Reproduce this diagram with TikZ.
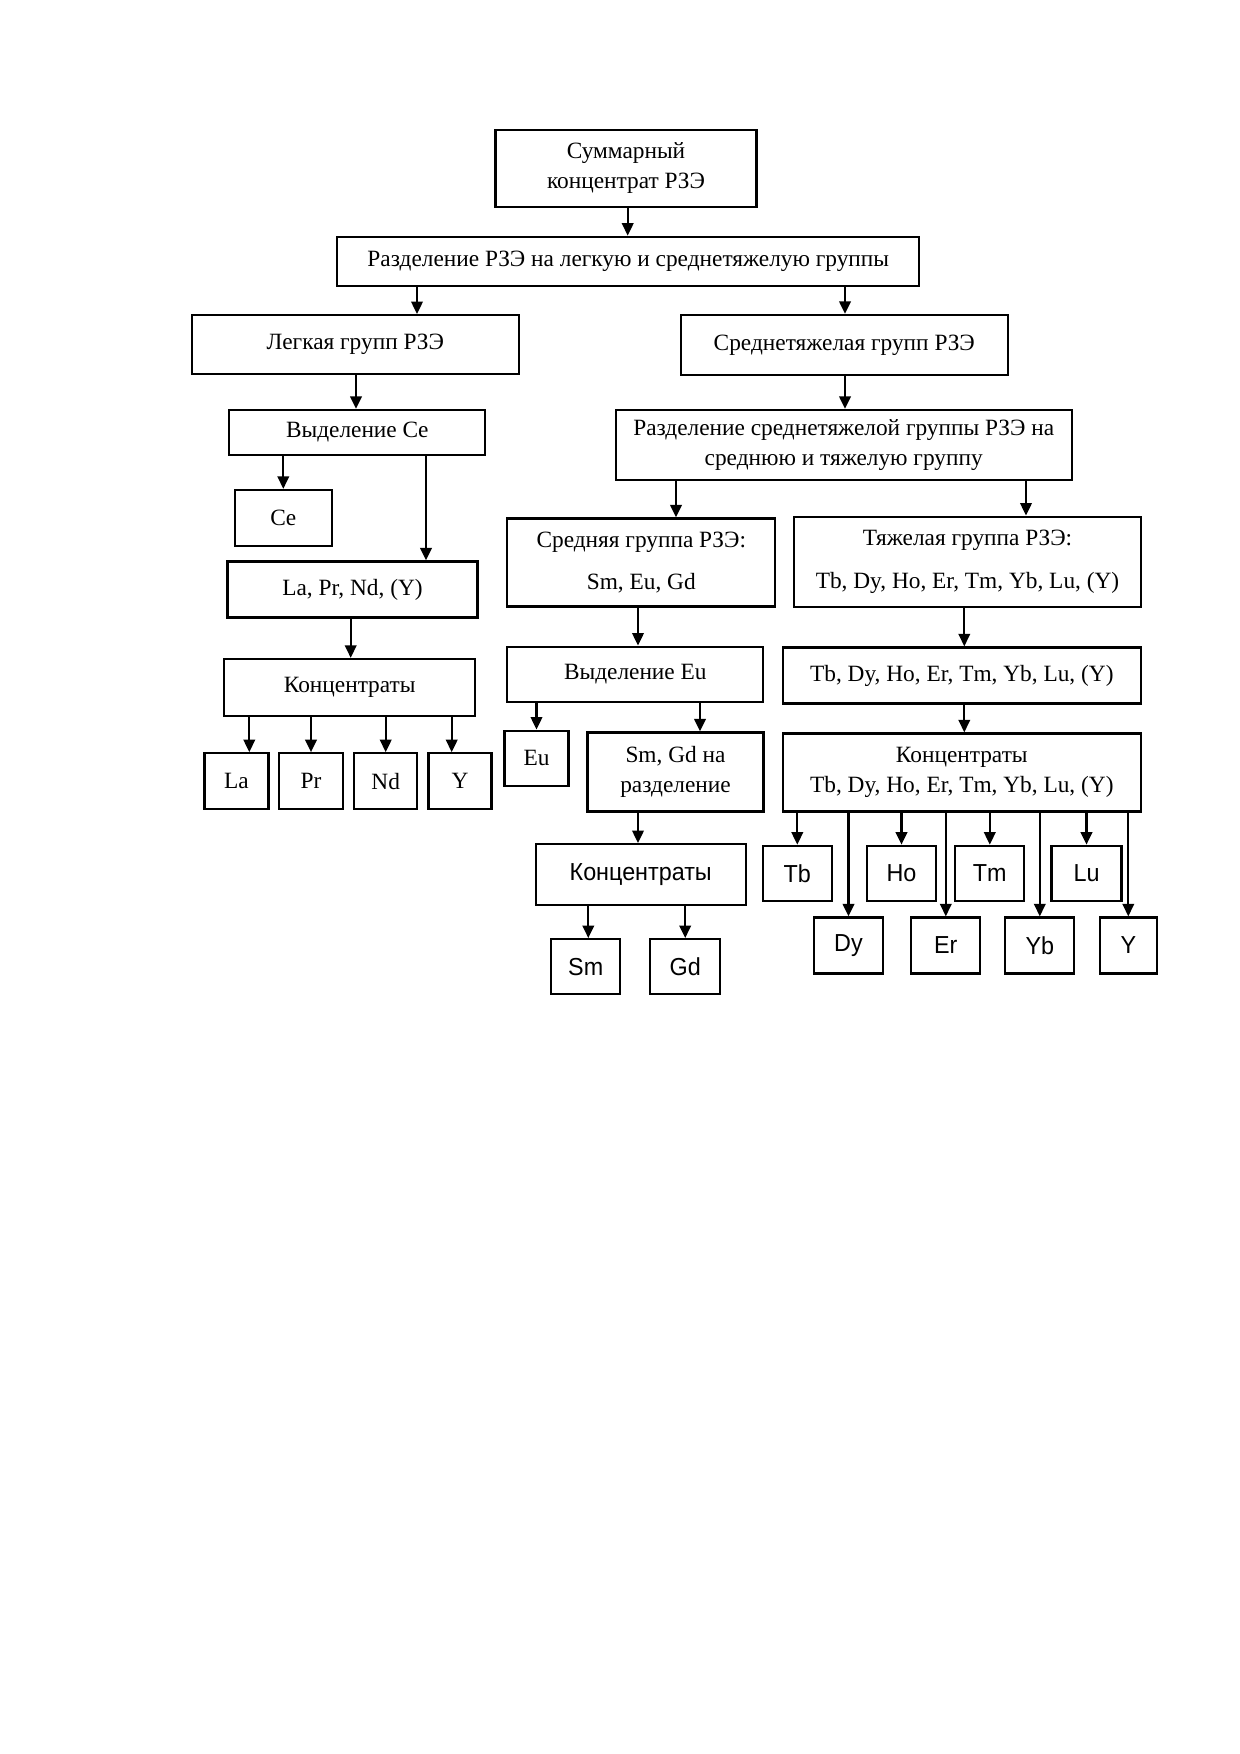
\documentclass[tikz,border=0pt]{standalone}
\usepackage{fontspec}
\setmainfont{Liberation Serif}
\newfontfamily\sansf[FakeStretch=0.95]{Liberation Sans}
\usetikzlibrary{arrows.meta}

\begin{document}
\begin{tikzpicture}[x=0.48pt, y=-0.48pt,
  box/.style={draw, rectangle, line width=1.1pt, inner sep=0pt, align=center, font=\fontsize{11.2}{14.4}\selectfont},
  sbox/.style={box, font=\sansf\fontsize{11.8}{14}\selectfont},
  sz/.style 2 args={minimum width=#1*0.48pt, minimum height=#2*0.48pt},
  arr/.style={-{Triangle[length=6pt,width=5.5pt]}, line width=1.1pt}]
\useasboundingbox (0,0) rectangle (1240,1754);

% Nodes
\node[box, sz={261}{77}] (sum) at (626,168.3) {Суммарный\\концентрат РЗЭ};
\node[box, sz={582}{49}] (sep1) at (628.3,261.3) {Разделение РЗЭ на легкую и среднетяжелую группы};
\node[box, sz={327}{59}] (light) at (355.3,344.7) {Легкая групп РЗЭ};
\node[box, sz={327}{60}] (mheavy) at (844.3,345) {Среднетяжелая групп РЗЭ};

% light group
\node[box, sz={256}{45}] (cesep) at (357.3,432.5) {Выделение Ce};
\node[box, sz={97}{56}] (ce) at (283.3,518) {Ce};
\node[box, sz={250}{56}] (lapr) at (352.5,589.5) {La, Pr, Nd, (Y)};
\node[box, sz={251}{57}] (lconc) at (349.7,687.5) {Концентраты};
\node[box, sz={64}{56}] (la) at (236.5,781.3) {La};
\node[box, sz={64}{56}] (pr) at (311,781.3) {Pr};
\node[box, sz={63}{56}] (nd) at (385.7,781.3) {Nd};
\node[box, sz={63}{56}] (ly) at (460,781.3) {Y};

% medium-heavy group
\node[box, sz={456}{70}] (sep2) at (843.7,445) {Разделение среднетяжелой группы РЗЭ на\\среднюю и тяжелую группу};
\node[box, sz={268}{88}] (mid) at (641.3,562.5) {Средняя группа РЗЭ:\\[5.6pt]Sm, Eu, Gd};
\node[box, sz={347}{90}] (heavy) at (967.5,561.7) {Тяжелая группа РЗЭ:\\[6pt]Tb, Dy, Ho, Er, Tm, Yb, Lu, (Y)};
\node[box, sz={256}{55}] (eusep) at (635.3,674.2) {Выделение Eu};
\node[box, sz={358}{56}] (hlist) at (961.8,675.5) {Tb, Dy, Ho, Er, Tm, Yb, Lu, (Y)};
\node[box, sz={64}{55}] (eu) at (536.5,758.2) {Eu};
\node[box, sz={176}{79}] (smgd) at (675.5,772) {Sm, Gd на\\разделение};
\node[box, sz={358}{78}] (hconc) at (961.8,772.5) {Концентраты\\Tb, Dy, Ho, Er, Tm, Yb, Lu, (Y)};
\node[sbox, sz={210}{61}] (mconc) at (640.7,874.7) {Концентраты};
\node[sbox, sz={69}{55}] (sm) at (585.7,966.7) {Sm};
\node[sbox, sz={70}{55}] (gd) at (685.2,966.7) {Gd};

% heavy concentrates
\node[sbox, sz={69}{55}] (tb) at (797.3,873.3) {Tb};
\node[sbox, sz={69}{55}] (ho) at (901.5,873.3) {Ho};
\node[sbox, sz={69}{55}] (tm) at (989.8,873.3) {Tm};
\node[sbox, sz={70}{55}] (lu) at (1086.5,873.3) {Lu};
\node[sbox, sz={69}{56}] (dy) at (848.5,945.5) {Dy};
\node[sbox, sz={69}{56}] (er) at (945.8,945.5) {Er};
\node[sbox, sz={69}{56}] (yb) at (1039.8,945.5) {Yb};
\node[sbox, sz={57}{56}] (hy) at (1128.3,945.5) {Y};

% Arrows
\draw[arr] (627.7,0 |- sum.south) -- (627.7,0 |- sep1.north);
\draw[arr] (417,0 |- sep1.south) -- (417,0 |- light.north);
\draw[arr] (845,0 |- sep1.south) -- (845,0 |- mheavy.north);
\draw[arr] (356,0 |- light.south) -- (356,0 |- cesep.north);
\draw[arr] (cesep.south -| ce) -- (ce);
\draw[arr] (426,0 |- cesep.south) -- (426,0 |- lapr.north);
\draw[arr] (350.7,0 |- lapr.south) -- (350.7,0 |- lconc.north);
\draw[arr] (249.3,0 |- lconc.south) -- (249.3,0 |- la.north);
\draw[arr] (lconc.south -| pr) -- (pr);
\draw[arr] (lconc.south -| nd) -- (nd);
\draw[arr] (451.7,0 |- lconc.south) -- (451.7,0 |- ly.north);
\draw[arr] (845,0 |- mheavy.south) -- (845,0 |- sep2.north);
\draw[arr] (676,0 |- sep2.south) -- (676,0 |- mid.north);
\draw[arr] (1026,0 |- sep2.south) -- (1026,0 |- heavy.north);
\draw[arr] (638,0 |- mid.south) -- (638,0 |- eusep.north);
\draw[arr] (964.3,0 |- heavy.south) -- (964.3,0 |- hlist.north);
\draw[arr] (eusep.south -| eu) -- (eu);
\draw[arr] (700,0 |- eusep.south) -- (700,0 |- smgd.north);
\draw[arr] (964.3,0 |- hlist.south) -- (964.3,0 |- hconc.north);
\draw[arr] (638,0 |- smgd.south) -- (638,0 |- mconc.north);
\draw[arr] (588.3,0 |- mconc.south) -- (588.3,0 |- sm.north);
\draw[arr] (mconc.south -| gd) -- (gd);
\draw[arr] (hconc.south -| tb) -- (tb);
\draw[arr] (hconc.south -| dy) -- (dy);
\draw[arr] (hconc.south -| ho) -- (ho);
\draw[arr] (hconc.south -| er) -- (er);
\draw[arr] (hconc.south -| tm) -- (tm);
\draw[arr] (hconc.south -| yb) -- (yb);
\draw[arr] (hconc.south -| lu) -- (lu);
\draw[arr] (hconc.south -| hy) -- (hy);
\end{tikzpicture}
\end{document}
